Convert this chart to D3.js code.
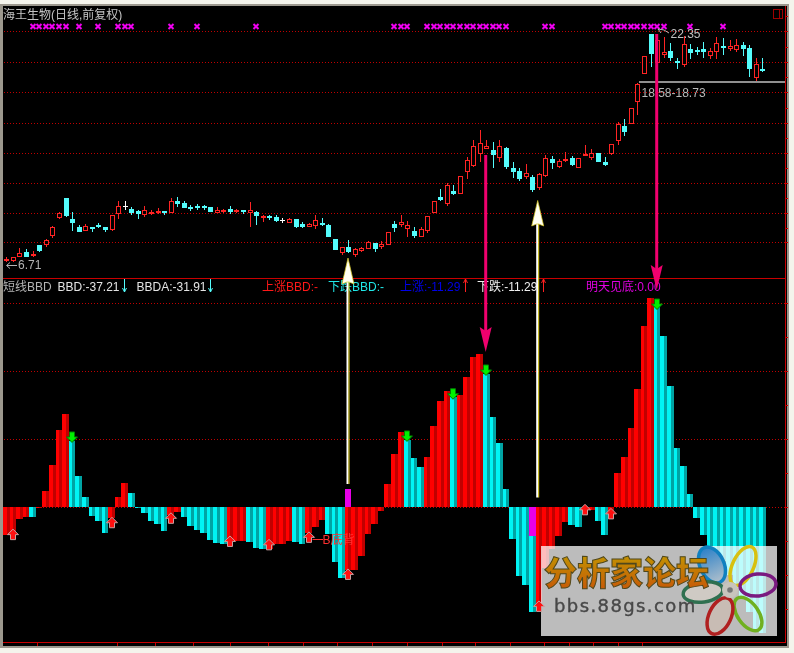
<!DOCTYPE html>
<html>
<head>
<meta charset="utf-8">
<script src="https://cdn.jsdelivr.net/npm/d3@7.9.0/dist/d3.min.js"></script>
<style>
  html, body { margin: 0; padding: 0; background: #f4f4ec; overflow: hidden; }
  svg { display: block; }
  text { font-family: "Liberation Sans", "Noto Sans CJK SC", sans-serif; font-size: 12px; }
</style>
</head>
<body>
<svg id="chart" width="794" height="653"></svg>
<script>
// daily candles
const opens = [6.85,6.87,7.15,7.40,7.17,7.86,7.95,8.59,9.78,11.08,9.66,9.09,8.93,9.11,9.25,9.09,9.00,10.10,10.56,10.33,10.21,10.03,10.05,10.19,10.19,10.15,10.90,10.74,10.49,10.56,10.53,10.47,10.12,10.24,10.33,10.19,10.26,10.12,10.15,9.80,9.87,9.80,9.60,9.48,9.66,9.34,9.16,9.27,9.39,9.23,8.29,7.42,7.72,7.26,7.51,7.67,8.02,7.81,7.97,9.32,9.30,9.02,8.82,8.50,8.93,10.17,11.15,10.79,11.56,11.47,12.94,13.40,14.22,14.56,14.38,13.90,14.52,13.14,12.94,12.60,12.55,11.89,12.71,13.76,13.33,13.74,13.83,13.26,14.04,13.90,14.18,13.56,14.22,15.07,16.05,16.24,17.75,19.67,22.35,20.47,20.98,21.18,20.52,20.29,21.32,21.30,21.32,20.91,21.18,21.53,21.43,21.37,21.60,21.39,19.44,19.95];
const closes = [6.89,7.03,7.31,7.08,7.24,7.49,8.24,9.14,10.05,9.87,9.41,8.79,9.16,9.02,9.11,8.89,9.92,10.53,10.56,10.08,10.03,10.28,10.17,10.24,10.10,10.88,10.72,10.44,10.37,10.44,10.44,10.17,10.26,10.26,10.17,10.28,10.19,10.26,9.89,9.85,9.71,9.55,9.60,9.64,9.11,9.11,9.30,9.57,9.25,8.45,7.53,7.72,7.40,7.58,7.65,8.06,7.60,7.92,8.75,9.05,9.44,9.23,8.50,8.95,9.85,10.88,10.97,11.98,11.38,12.60,13.69,14.66,14.86,14.66,14.06,14.66,13.26,12.92,12.41,12.80,11.66,12.73,13.83,13.53,13.67,13.81,13.37,13.83,14.11,14.18,13.60,13.37,14.79,16.17,15.66,17.27,18.92,20.84,21.02,21.96,21.11,20.72,20.36,21.66,21.09,21.16,21.16,21.18,21.73,21.43,21.53,21.60,21.37,19.95,20.29,19.85];
const highs = [7.05,7.08,7.65,7.60,7.44,7.86,8.29,9.18,10.12,11.08,10.12,9.25,9.32,9.11,9.39,9.09,9.92,10.90,10.90,10.49,10.26,10.56,10.28,10.42,10.19,11.08,11.18,10.90,10.60,10.69,10.65,10.47,10.47,10.35,10.53,10.35,10.28,10.83,10.19,9.94,9.94,9.94,9.73,9.71,9.66,9.46,9.39,9.94,9.73,9.32,8.29,7.74,8.22,7.67,7.74,8.13,8.02,8.13,8.75,9.53,9.94,9.53,9.09,9.09,9.85,10.88,11.70,12.14,11.98,12.60,13.90,15.09,15.78,15.09,14.93,15.09,14.59,13.56,13.17,13.44,12.66,12.82,14.04,13.97,13.76,14.24,13.97,13.83,14.75,14.45,14.18,13.90,14.79,16.31,16.51,17.27,18.98,20.84,22.35,22.35,22.17,21.76,20.70,22.24,21.66,21.46,21.80,21.41,22.14,22.07,21.94,22.01,21.80,21.60,20.70,20.70];
const lows = [6.71,6.73,7.12,7.03,7.03,7.40,7.74,8.36,9.64,9.80,8.84,8.77,8.84,8.77,9.02,8.77,8.84,9.66,10.31,9.94,9.66,9.80,9.94,10.03,9.94,10.10,10.49,10.40,10.24,10.31,10.31,10.15,10.10,10.10,10.03,10.10,10.03,9.11,9.25,9.46,9.60,9.46,9.39,9.44,9.05,9.05,9.11,8.98,9.18,8.43,7.53,7.19,7.33,7.05,7.40,7.60,7.40,7.60,7.92,8.77,9.09,8.43,8.36,8.45,8.70,10.10,10.92,10.56,11.31,11.45,12.41,13.26,13.58,14.45,13.19,13.58,13.12,12.46,12.27,12.41,11.54,11.66,12.55,13.10,13.19,13.60,13.31,13.26,14.04,13.74,13.58,13.33,14.08,14.75,15.37,16.19,16.81,19.65,20.13,20.47,20.75,20.50,19.95,20.13,20.66,20.95,20.75,20.68,20.66,20.95,21.18,21.16,20.89,19.44,19.12,19.79];
// magenta x row along the top
const signalDays = [4,5,6,7,8,9,11,14,17,18,19,25,29,38,59,60,61,64,65,66,67,68,69,70,71,72,73,74,75,76,82,83,91,92,93,94,95,96,97,98,99,100,104,109];
const priceGrid = [8.05,10.11,12.17,14.23,16.29,18.42,20.48,22.55];

// BBD histogram
const bbd = [-8.3,-8.3,-3.6,-2.9,-2.9,-0.3,4.6,12.3,22.5,27.3,19.3,9.0,2.8,-2.7,-4.2,-7.7,-3.4,2.8,7.0,4.0,-0.4,-1.9,-4.2,-5.1,-7.2,-2.5,-1.6,-3.0,-5.7,-6.9,-7.8,-9.9,-10.7,-11.0,-10.2,-10.1,-10.1,-10.4,-12.2,-12.5,-12.5,-11.1,-11.0,-10.0,-10.4,-11.0,-7.8,-6.0,-4.0,-8.0,-16.3,-21.0,-18.6,-18.6,-14.5,-8.0,-5.1,-1.3,6.7,15.5,22.0,19.6,14.3,11.7,14.6,23.7,31.1,34.0,32.3,32.8,38.1,44.0,44.9,39.0,26.4,18.7,5.2,-9.5,-20.4,-23.0,-30.9,-28.4,-18.0,-12.4,-8.6,-4.5,-5.4,-6.0,-1.5,-0.9,-4.2,-8.3,-1.3,9.9,14.6,23.1,34.6,53.1,61.4,58.7,50.2,35.5,17.3,12.0,3.7,-3.3,-8.3,-12.5,-14,-16,-20,-24,-27,-31,-36.5,-37.21];
const bbdColor = "rrrrcrrrrrccccccrrrccccccrrcccccccrrrcccrrrrccrrrcccrrrrrrrrrcccrrrrcrrrrccccccccrrrrrccrrccrrrrrrrccccccccccccccccc".split("");
const magentaDays = [52, 80];
const magentaValues = [5.2, -8.6];
const upArrowDays = [1,16,25,34,40,46,52,81,88,92];
const upArrowLevels = [-6.6,-3.1,-1.8,-8.6,-9.6,-7.4,-18.3,-27.7,0.7,-0.5];
const downArrowDays = [10,61,68,73,99];
const downArrowLevels = [18.9,19.2,31.6,38.6,58.0];
const bbdGrid = [20,40,60];
const timeTicks = [36.7,117.3,155.3,193.3,230.3,268.3,303.3,337.3,372.3,406.7,441.7,475.3,510.3,544.3,569.3,593.3,618.3,642.3];

const svg = d3.select("#chart");
const x = d3.scaleLinear().domain([0, 115]).range([6.33, 762.4]);
const yPrice = d3.scaleLinear().domain([6.71, 22.35]).range([262, 34.33]);
const yBbd = d3.scaleLinear().domain([-40, 60]).range([642.7, 302.7]);
const snap = (v) => Math.round(v) + 0.5;

const RED = "#ff2424", CYAN = "#54fcfc", GRID = "#c00000", FRAME = "#c80000";

// window frame
svg.append("rect").attr("x", 0).attr("y", 4).attr("width", 789).attr("height", 644).attr("fill", "#9c988e");
svg.append("rect").attr("x", 3).attr("y", 6).attr("width", 784).attr("height", 640).attr("fill", "#000");

// dotted grid
const hline = (y) => svg.append("line").attr("x1", 4).attr("x2", 785)
  .attr("y1", snap(y)).attr("y2", snap(y))
  .attr("stroke", GRID).attr("stroke-dasharray", "1 2").attr("shape-rendering", "crispEdges");
priceGrid.forEach((p) => hline(yPrice(p)));
bbdGrid.forEach((v) => hline(yBbd(v)));
hline(yBbd(0));

// panel lines and axis ticks
svg.append("line").attr("x1", 3).attr("x2", 786).attr("y1", 278.5).attr("y2", 278.5).attr("stroke", FRAME);
svg.append("line").attr("x1", 3).attr("x2", 786).attr("y1", 642.5).attr("y2", 642.5).attr("stroke", FRAME);
svg.append("line").attr("x1", 785.5).attr("x2", 785.5).attr("y1", 6).attr("y2", 643).attr("stroke", FRAME);
svg.selectAll(".xtick").data(timeTicks).enter().append("line")
  .attr("x1", (d) => snap(d)).attr("x2", (d) => snap(d)).attr("y1", 643).attr("y2", 646).attr("stroke", FRAME);
const rightTicks = [...priceGrid.map(yPrice), ...priceGrid.map((p) => yPrice(p + 1.03)),
  ...[0, 20, 40, 60].map(yBbd), ...[10, 30, 50, -10, -20, -30].map(yBbd)];
svg.selectAll(".ytick").data(rightTicks).enter().append("line")
  .attr("x1", 785).attr("x2", 788).attr("y1", (d) => snap(d)).attr("y2", (d) => snap(d)).attr("stroke", FRAME);

// window button
svg.append("rect").attr("x", 773.5).attr("y", 9.5).attr("width", 9).attr("height", 9).attr("fill", "none").attr("stroke", "#a00000");
svg.append("line").attr("x1", 779.5).attr("x2", 779.5).attr("y1", 9.5).attr("y2", 18.5).attr("stroke", "#a00000");

// signal crosses
svg.selectAll(".sig").data(signalDays).enter().append("path")
  .attr("d", "M-2.5,-2.5L2.5,2.5M-2.5,2.5L2.5,-2.5")
  .attr("transform", (d) => `translate(${snap(x(d)) - 0.5},26.5)`)
  .attr("stroke", "#f000f0").attr("stroke-width", 2).attr("fill", "none");

// candles
opens.forEach((o, i) => {
  const c = closes[i];
  const cx = snap(x(i));
  const flat = o === c;
  const col = flat ? "#fff" : (c > o ? RED : CYAN);
  const top = Math.round(yPrice(Math.max(o, c)));
  const bot = Math.round(yPrice(Math.min(o, c)));
  svg.append("line").attr("x1", cx).attr("x2", cx)
    .attr("y1", yPrice(highs[i])).attr("y2", yPrice(lows[i]))
    .attr("stroke", col).attr("shape-rendering", "crispEdges");
  if (flat) {
    svg.append("line").attr("x1", cx - 2.5).attr("x2", cx + 2.5).attr("y1", top + 0.5).attr("y2", top + 0.5).attr("stroke", col);
  } else if (c > o && bot - top > 1) {
    svg.append("rect").attr("x", cx - 2).attr("y", top + 0.5).attr("width", 4).attr("height", bot - top)
      .attr("fill", "#000").attr("stroke", col).attr("shape-rendering", "crispEdges");
  } else {
    svg.append("rect").attr("x", cx - 2.5).attr("y", top).attr("width", 5).attr("height", Math.max(bot - top, 2))
      .attr("fill", col).attr("shape-rendering", "crispEdges");
  }
});

// histogram, each bar bright with a dark strip on its right side
const barLeft = (i) => Math.round(x(i) - 3.29);
const barRight = (i) => Math.round(x(i) + 3.29);
bbd.forEach((v, i) => {
  const isRed = bbdColor[i] === "r";
  const y0 = yBbd(Math.max(v, 0)), h = Math.abs(yBbd(v) - yBbd(0));
  svg.append("rect").attr("x", barLeft(i)).attr("y", y0).attr("width", barRight(i) - barLeft(i)).attr("height", h)
    .attr("fill", isRed ? "#ff0000" : "#00f4f4").attr("shape-rendering", "crispEdges");
  svg.append("rect").attr("x", barRight(i) - 3).attr("y", y0).attr("width", 3).attr("height", h)
    .attr("fill", isRed ? "#c00000" : "#00a4a4").attr("shape-rendering", "crispEdges");
});
magentaDays.forEach((d, k) => {
  const v = magentaValues[k];
  svg.append("rect").attr("x", barLeft(d)).attr("y", yBbd(Math.max(v, 0))).attr("width", barRight(d) - barLeft(d))
    .attr("height", Math.abs(yBbd(v) - yBbd(0))).attr("fill", "#e800e8").attr("shape-rendering", "crispEdges");
});

// watermark goes over the bars, screen gives the pale columns
const wm = svg.append("g");
wm.append("rect").attr("x", 541).attr("y", 546).attr("width", 236).attr("height", 90)
  .attr("fill", "#bcbcbc").style("mix-blend-mode", "screen");

const defs = svg.append("defs");
const gold = defs.append("linearGradient").attr("id", "gold").attr("x1", 0).attr("y1", 0).attr("x2", 0).attr("y2", 1);
gold.append("stop").attr("offset", "0%").attr("stop-color", "#c0a000");
gold.append("stop").attr("offset", "100%").attr("stop-color", "#c85008");
const blue = defs.append("linearGradient").attr("id", "petal").attr("x1", 0).attr("y1", 0).attr("x2", 0).attr("y2", 1);
blue.append("stop").attr("offset", "0%").attr("stop-color", "#2a80c8");
blue.append("stop").attr("offset", "100%").attr("stop-color", "#b0c0cc");

const petals = [
  { cx: 712, cy: 565, rx: 12, ry: 19, rot: -25, stroke: "#1080c0", fill: "url(#petal)" },
  { cx: 743, cy: 566, rx: 10.5, ry: 21, rot: 25, stroke: "#d8c010", fill: "none" },
  { cx: 758, cy: 585, rx: 18, ry: 11, rot: -6, stroke: "#7a1a80", fill: "none" },
  { cx: 748, cy: 614, rx: 10.5, ry: 19, rot: -35, stroke: "#70b020", fill: "none" },
  { cx: 720, cy: 616, rx: 11, ry: 19.5, rot: 25, stroke: "#b02020", fill: "#c8bcb4" },
  { cx: 703, cy: 592, rx: 20, ry: 10, rot: -8, stroke: "#2f7050", fill: "#cfcac4" },
];
petals.forEach((p) => {
  wm.append("ellipse").attr("cx", p.cx).attr("cy", p.cy).attr("rx", p.rx).attr("ry", p.ry)
    .attr("transform", `rotate(${p.rot} ${p.cx} ${p.cy})`)
    .attr("fill", p.fill).attr("stroke", p.stroke).attr("stroke-width", 3.5);
});
wm.append("circle").attr("cx", 730).attr("cy", 590).attr("r", 8).attr("fill", "#c8c4bc");
wm.append("circle").attr("cx", 730).attr("cy", 590).attr("r", 2.8).attr("fill", "#777");

wm.append("text").attr("x", 544).attr("y", 585).text("分析家论坛")
  .style("font-family", "'Noto Sans CJK SC'").style("font-size", "33px").style("font-weight", 900)
  .attr("fill", "url(#gold)").attr("stroke", "#50481c").attr("stroke-width", 1);
wm.append("text").attr("x", 554).attr("y", 611.5).text("bbs.88gs.com")
  .style("font-family", "'DejaVu Sans'").style("font-size", "18px").style("letter-spacing", "1.4px")
  .attr("fill", "#484848").attr("stroke", "#484848").attr("stroke-width", 0.4);

// up and down markers on the histogram
const upShape = "M0,0L5.5,5.5L2.5,5.5L2.5,10.5L-2.5,10.5L-2.5,5.5L-5.5,5.5Z";
const downShape = "M-2.5,0L2.5,0L2.5,5L5.5,5L0,10.5L-5.5,5L-2.5,5Z";
svg.selectAll(".up").data(upArrowDays).enter().append("path")
  .attr("d", upShape)
  .attr("transform", (d, k) => `translate(${snap(x(d)) - 0.5},${yBbd(upArrowLevels[k])})`)
  .attr("fill", "#ff1010").attr("stroke", "#c8a0a0");
svg.selectAll(".down").data(downArrowDays).enter().append("path")
  .attr("d", downShape)
  .attr("transform", (d, k) => `translate(${snap(x(d)) - 0.5},${yBbd(downArrowLevels[k]) - 10.5})`)
  .attr("fill", "#00f000").attr("stroke", "#008000");

// labels
const label = (tx, ty, s, col) => svg.append("text").attr("x", tx).attr("y", ty).attr("fill", col).text(s);
label(3, 19, "海王生物(日线,前复权)", "#c4c4c4");
label(18, 269, "6.71", "#b4b4b4");
svg.append("path").attr("d", "M17,265.5H7M10,262.5L6.5,265.5L10,268.5").attr("fill", "none").attr("stroke", "#b4b4b4");
label(670.5, 38, "22.35", "#c0c0c0");
svg.append("path").attr("d", "M669,33L664,30L658,29M658,29L661,33").attr("fill", "none").attr("stroke", "#b4b4b4");
svg.append("line").attr("x1", 639).attr("x2", 785).attr("y1", 82).attr("y2", 82).attr("stroke", "#909090").attr("stroke-width", 2);
label(641.5, 96.5, "18.58-18.73", "#b8b8b8");

label(3, 291, "短线BBD", "#b4b4b4");
label(57.5, 291, "BBD:-37.21", "#e4e4e4");
label(136.5, 291, "BBDA:-31.91", "#e4e4e4");
label(262, 291, "上涨BBD:-", "#ff1818");
label(328, 291, "下跌BBD:-", "#20e8e8");
label(400, 291, "上涨:-11.29", "#0000e8");
label(477, 291, "下跌:-11.29", "#f0f0f0");
label(586, 291, "明天见底:0.00", "#e000e0");
label(322.5, 544, "B底背", "#ff3030");
svg.append("line").attr("x1", 312.5).attr("x2", 323).attr("y1", 539.5).attr("y2", 539.5).attr("stroke", "#ff3030");

// small arrows after the header values
const headerArrow = (ax, col, up) => {
  const p = up ? `M${ax},279V292M${ax - 2},283L${ax},279L${ax + 2},283` : `M${ax},279V292M${ax - 2},288L${ax},292L${ax + 2},288`;
  svg.append("path").attr("d", p).attr("stroke", col).attr("fill", "none");
};
headerArrow(124.5, CYAN, false);
headerArrow(210.5, CYAN, false);
headerArrow(465.5, "#ff2020", true);
headerArrow(543.5, "#ff2020", true);

// hand drawn arrows on top of everything
const whiteArrow = (ax, tip, base, end) => {
  svg.append("line").attr("x1", ax - 0.5).attr("x2", ax - 0.5).attr("y1", base - 2).attr("y2", end).attr("stroke", "#fff").attr("stroke-width", 2);
  svg.append("line").attr("x1", ax + 1).attr("x2", ax + 1).attr("y1", base - 2).attr("y2", end).attr("stroke", "#e8d820").attr("stroke-width", 1);
  svg.append("path").attr("d", `M${ax},${tip}L${ax + 6},${base}L${ax + 1},${base - 2}L${ax - 1},${base - 2}L${ax - 6},${base}Z`)
    .attr("fill", "#fffff4").attr("stroke", "#d8c820").attr("stroke-width", 0.7);
};
whiteArrow(348, 258, 284, 484);
whiteArrow(537.7, 200.5, 226, 497.5);

const pinkArrow = (ax, start, headTop, tip) => {
  svg.append("line").attr("x1", ax).attr("x2", ax).attr("y1", start).attr("y2", headTop + 4).attr("stroke", "#f0006e").attr("stroke-width", 3);
  svg.append("path").attr("d", `M${ax},${tip}L${ax - 6},${headTop}L${ax},${headTop + 4}L${ax + 6},${headTop}Z`).attr("fill", "#f0006e");
};
pinkArrow(485.7, 155, 327, 352);
pinkArrow(656.7, 34, 265, 290);
</script>
</body>
</html>
